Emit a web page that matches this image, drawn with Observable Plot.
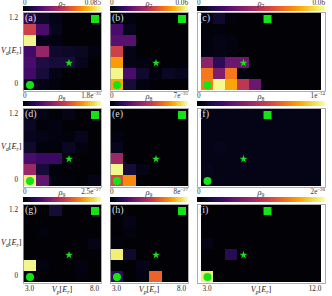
<!DOCTYPE html>
<html><head><meta charset="utf-8">
<script src="https://cdn.jsdelivr.net/npm/d3@7"></script>
<script src="https://cdn.jsdelivr.net/npm/@observablehq/plot@0.6"></script>
<style>
body{margin:0;background:#fff;}
#chart{position:relative;width:332px;height:296px;overflow:hidden;font-family:"Liberation Serif","DejaVu Serif",serif;color:#222;}
.lab{position:absolute;white-space:nowrap;line-height:1;}
.lab sub{font-size:68%;vertical-align:-0.32em;line-height:0;}
.lab sup{font-size:68%;vertical-align:0.55em;line-height:0;}
.abs{position:absolute;display:block;}
</style></head><body><div id="chart"></div>
<script>
// ---------- data ----------
const xNarrow = [3,4,5,6,7,8];
const xWide = [3,4,5,6,7,8,9,10,11,12];
const yLevels = [1.2,1.0,0.8,0.6,0.4,0.2,0.0]; // top row first
const panelLetters = ["(a)","(b)","(c)","(d)","(e)","(f)","(g)","(h)","(i)"];
const rhoIndex = [7,7,7,8,8,8,9,9,9];
const maxMantissa = ["0.085","0.06","0.06","1.8e","7e","1e","2.5e","8e","2e"];
const maxExponent = [null,null,null,"−35","−35","−14","−27","−27","−28"];
const xTickLabels = ["3.0","8.0","12.0"];
const yTickLabels = ["1.2","0"];
const circlePos = {x:3, y:0.0};
const starPos = {x:6, y:0.4};
const squarePos = {x:8, y:1.2};

// values as fraction of each colour-bar maximum; rows y=1.2 ... 0
const gridA = [
  [0.15,0.07,0.04,0.01,0.01,0.01],
  [0.55,0.22,0.05,0.01,0.01,0.01],
  [0.97,0.04,0.03,0.01,0.01,0.01],
  [0.20,0.40,0.08,0.07,0.06,0.03],
  [0.22,0.12,0.10,0.10,0.05,0.01],
  [0.20,0.10,0.04,0.01,0.01,0.01],
  [0.05,0.04,0.02,0.01,0.01,0.01]];
const gridB = [
  [0.03,0.03,0.01,0.01,0.01,0.01],
  [0.22,0.05,0.01,0.01,0.01,0.01],
  [0.25,0.25,0.01,0.01,0.01,0.01],
  [0.55,0.04,0.01,0.01,0.01,0.01],
  [0.78,0.04,0.03,0.01,0.01,0.01],
  [0.97,0.22,0.08,0.02,0.06,0.05],
  [0.80,0.10,0.03,0.01,0.01,0.01]];
const gridC = [
  [0.04,0.08,0.02,0.01,0.01,0.01,0.01,0.01,0.01,0.01],
  [0.02,0.02,0.01,0.01,0.01,0.01,0.01,0.01,0.01,0.01],
  [0.02,0.04,0.03,0.01,0.01,0.01,0.01,0.01,0.01,0.01],
  [0.03,0.04,0.03,0.01,0.01,0.01,0.01,0.01,0.01,0.01],
  [0.38,0.15,0.30,0.30,0.01,0.01,0.01,0.01,0.01,0.01],
  [0.70,0.35,0.70,0.03,0.01,0.01,0.01,0.01,0.01,0.01],
  [0.72,0.98,0.80,0.50,0.30,0.01,0.01,0.01,0.01,0.01]];
const gridD = [
  [0.05,0.04,0.01,0.04,0.01,0.01],
  [0.06,0.02,0.03,0.01,0.01,0.01],
  [0.05,0.04,0.03,0.02,0.05,0.01],
  [0.08,0.02,0.02,0.06,0.03,0.01],
  [0.22,0.18,0.18,0.02,0.01,0.01],
  [0.42,0.10,0.02,0.01,0.01,0.01],
  [0.95,0.28,0.02,0.02,0.01,0.04]];
const gridE = [
  [0.01,0.01,0.01,0.01,0.01,0.01],
  [0.01,0.01,0.01,0.01,0.01,0.01],
  [0.03,0.01,0.01,0.01,0.01,0.01],
  [0.05,0.01,0.01,0.01,0.01,0.01],
  [0.42,0.01,0.01,0.01,0.01,0.01],
  [0.97,0.10,0.04,0.01,0.01,0.01],
  [0.57,0.74,0.01,0.01,0.01,0.01]];
const gridF = [
  [0.04,0.04,0.04,0.04,0.04,0.04,0.04,0.04,0.04,0.04],
  [0.04,0.04,0.04,0.04,0.04,0.04,0.04,0.04,0.04,0.04],
  [0.04,0.04,0.04,0.04,0.04,0.04,0.04,0.04,0.04,0.04],
  [0.04,0.05,0.04,0.04,0.04,0.04,0.04,0.04,0.04,0.04],
  [0.04,0.04,0.04,0.04,0.04,0.04,0.04,0.04,0.04,0.04],
  [0.05,0.04,0.04,0.04,0.04,0.04,0.04,0.04,0.04,0.04],
  [0.04,0.04,0.04,0.04,0.04,0.04,0.04,0.04,0.04,0.04]];
const gridG = [
  [0.01,0.01,0.10,0.01,0.01,0.01],
  [0.01,0.01,0.01,0.01,0.01,0.01],
  [0.01,0.02,0.01,0.01,0.01,0.01],
  [0.01,0.01,0.01,0.01,0.01,0.04],
  [0.01,0.01,0.01,0.01,0.01,0.01],
  [0.97,0.03,0.01,0.01,0.03,0.01],
  [0.01,0.01,0.01,0.01,0.02,0.01]];
const gridH = [
  [0.01,0.01,0.01,0.01,0.01,0.01],
  [0.01,0.04,0.01,0.01,0.01,0.01],
  [0.01,0.03,0.01,0.01,0.01,0.01],
  [0.02,0.01,0.01,0.01,0.01,0.01],
  [0.95,0.08,0.01,0.01,0.01,0.01],
  [0.01,0.01,0.04,0.01,0.01,0.01],
  [0.15,0.01,0.03,0.65,0.01,0.01]];
const gridI = [
  [0.01,0.01,0.01,0.01,0.01,0.01,0.01,0.01,0.01,0.01],
  [0.01,0.01,0.01,0.01,0.01,0.01,0.01,0.01,0.01,0.01],
  [0.01,0.01,0.01,0.01,0.01,0.01,0.01,0.01,0.01,0.01],
  [0.04,0.01,0.01,0.01,0.01,0.01,0.01,0.01,0.01,0.01],
  [0.01,0.01,0.14,0.01,0.01,0.01,0.01,0.01,0.01,0.01],
  [0.01,0.01,0.01,0.01,0.01,0.01,0.01,0.01,0.01,0.01],
  [0.95,0.01,0.01,0.01,0.01,0.01,0.01,0.01,0.01,0.01]];
const grids = [gridA,gridB,gridC,gridD,gridE,gridF,gridG,gridH,gridI];

// ---------- layout ----------
const colLeft = [23,110,197];
const colWidth = [78,78,128];
const rowTop = [12,108,204];
const panelH = 79;
const cbH = 5, cbGap = 2;
const green = "#14e414";
const serif = '"Liberation Serif","DejaVu Serif",serif';

const chart = document.getElementById("chart");
function place(el, left, top){ el.classList.add("abs"); el.style.left = left+"px"; el.style.top = top+"px"; chart.appendChild(el); }
function label(html, size, opts){
  const d = document.createElement("div");
  d.className = "lab"; d.innerHTML = html; d.style.fontSize = size+"px";
  if (opts.color) d.style.color = opts.color;
  chart.appendChild(d);
  const w = d.getBoundingClientRect().width;
  let left = opts.x;
  if (opts.anchor === "end") left = opts.x - w;
  else if (opts.anchor === "middle") left = opts.x - w/2;
  d.style.left = left+"px"; d.style.top = opts.top+"px";
  return d;
}

const steps = d3.range(0, 1, 1/200);

for (let i = 0; i < 9; i++) {
  const r = Math.floor(i/3), c = i % 3;
  const xs = c === 2 ? xWide : xNarrow;
  const W = colWidth[c];
  const data = [];
  grids[i].forEach((row, ri) => row.forEach((v, ci) => data.push({x: xs[ci], y: yLevels[ri], v})));

  const panel = Plot.plot({
    width: W, height: panelH, margin: 0,
    style: {background: "transparent", overflow: "visible"},
    x: {type: "band", domain: xs, padding: 0, axis: null},
    y: {type: "band", domain: yLevels, padding: 0, axis: null},
    color: {type: "linear", scheme: "inferno", domain: [0, 1]},
    marks: [
      Plot.cell(data, {x: "x", y: "y", fill: "v", inset: 0, shapeRendering: "crispEdges"}),
      Plot.frame({stroke: "#9a9a9a", strokeWidth: 0.8}),
      Plot.dot([circlePos], {x: "x", y: "y", r: 4, fill: green, symbol: "circle"}),
      Plot.dot([starPos], {x: "x", y: "y", r: 2.5, fill: green, symbol: "star"}),
      Plot.dot([squarePos], {x: "x", y: "y", r: 4.5, fill: green, symbol: "square"}),
      Plot.text([panelLetters[i]], {frameAnchor: "top-left", text: d => d, dx: 1.5, dy: 1.5,
        textAnchor: "start", lineAnchor: "top", fill: "#dcdcdc", fontSize: 10, fontFamily: serif})
    ]
  });
  place(panel, colLeft[c], rowTop[r]);

  const cb = Plot.plot({
    width: W, height: cbH, margin: 0,
    style: {background: "transparent"},
    x: {domain: [0, 1], axis: null},
    color: {type: "linear", scheme: "inferno", domain: [0, 1]},
    marks: [Plot.rect(steps, {x1: d => d, x2: d => d + 1/200, fill: d => d + 1/400, shapeRendering: "crispEdges"})]
  });
  const cbTop = r === 0 ? 6 : rowTop[r] - cbGap - cbH;
  place(cb, colLeft[c], cbTop);

  // colour-bar labels
  const lt = Math.max(cbTop - 7.6, 0);
  label("0", 7.2, {x: colLeft[c], top: lt, anchor: "start", color: "#333"});
  label(`<i>ρ</i><sub>${rhoIndex[i]}</sub>`, 8.4, {x: colLeft[c] + W/2, top: Math.max(lt - 0.6, 0), anchor: "middle", color: "#333"});
  const mx = maxExponent[i] ? `${maxMantissa[i]}<sup>${maxExponent[i]}</sup>` : maxMantissa[i];
  label(mx, 7.2, {x: colLeft[c] + W, top: lt, anchor: "end", color: "#333"});

  const xs_ = panel.scale("x"), ys_ = panel.scale("y");
  const bwx = xs_.bandwidth, bwy = ys_.bandwidth;
  if (c === 0) {
    const yTop = rowTop[r] + ys_.apply(1.2) + bwy/2;
    const yMid = rowTop[r] + ys_.apply(0.6) + bwy/2;
    const yBot = rowTop[r] + ys_.apply(0.0) + bwy/2;
    label(yTickLabels[0], 7.2, {x: 18, top: yTop - 3.6, anchor: "end"});
    label(yTickLabels[1], 7.2, {x: 18, top: yBot - 3.6, anchor: "end"});
    label(`<i>V</i><sub><i>d</i></sub>[<i>E</i><sub><i>r</i></sub>]`, 8.2, {x: 21.5, top: yMid - 4.6, anchor: "end"});
  }
  if (r === 2) {
    const bt = rowTop[r] + panelH + 2.6;
    const x0 = colLeft[c] + xs_.apply(xs[0]) + bwx/2;
    const x1 = colLeft[c] + xs_.apply(xs[xs.length-1]) + bwx/2;
    label(xTickLabels[0], 7.2, {x: x0, top: bt, anchor: "middle"});
    label(c === 2 ? xTickLabels[2] : xTickLabels[1], 7.2, {x: x1, top: bt, anchor: "middle"});
    label(`<i>V</i><sub><i>p</i></sub>[<i>E</i><sub><i>r</i></sub>]`, 8.2, {x: colLeft[c] + W/2, top: bt, anchor: "middle"});
  }
}
</script></body></html>
